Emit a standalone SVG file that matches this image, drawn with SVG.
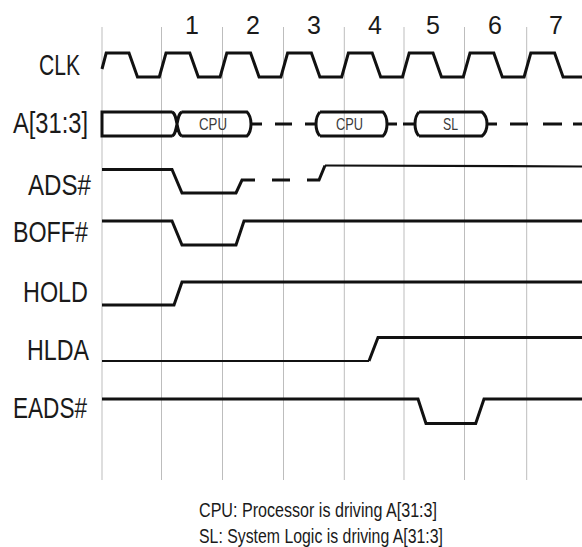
<svg xmlns="http://www.w3.org/2000/svg" width="582" height="547" viewBox="0 0 582 547">
<style>
.grid{stroke:#bdbdbd;stroke-width:1;fill:none}
.w{stroke:#111;stroke-width:3;fill:none;stroke-linejoin:miter}
.thin{stroke-width:2.2}
.lbl{font-family:"Liberation Sans Narrow","Liberation Sans",Arial,sans-serif;font-size:29px;fill:#1a1a1a}
.num{font-family:"Liberation Sans Narrow","Liberation Sans",Arial,sans-serif;font-size:25px;fill:#1a1a1a;text-anchor:middle}
.bus{font-family:"Liberation Sans Narrow","Liberation Sans",Arial,sans-serif;font-size:17px;fill:#3a3a3a}
.note{font-family:"Liberation Sans Narrow","Liberation Sans",Arial,sans-serif;font-size:20px;fill:#1a1a1a}
</style>
<rect width="582" height="547" fill="#fff"/>
<g id="grid">
<path class="grid" d="M102,27V480M161.5,27V480M222.5,27V480M283.5,27V480M344.3,27V480M404,27V480M464.5,27V480M526.7,27V480"/>
</g>
<g id="clock-numbers">
<text class="num" x="192" y="34">1</text>
<text class="num" x="253" y="34">2</text>
<text class="num" x="314" y="34">3</text>
<text class="num" x="375" y="34">4</text>
<text class="num" x="433" y="34">5</text>
<text class="num" x="495" y="34">6</text>
<text class="num" x="556" y="34">7</text>
</g>
<g id="clk">
<text class="lbl" x="39" y="75" textLength="41" lengthAdjust="spacingAndGlyphs">CLK</text>
<path class="w" d="M102,69 L106.2,53 L129,53 L137.5,77 L159.3,77 L166,53 L189.8,53 L198.3,77 L220.1,77 L226.8,53 L250.6,53 L259.1,77 L280.9,77 L287.6,53 L311.4,53 L319.9,77 L341.7,77 L348.4,53 L372.2,53 L380.7,77 L402.5,77 L409.2,53 L433,53 L441.5,77 L463.3,77 L470,53 L493.8,53 L502.3,77 L524.1,77 L530.8,53 L554.6,53 L563.1,77 L582,77"/>
</g>
<g id="addr">
<text class="lbl" x="13" y="133" textLength="75" lengthAdjust="spacingAndGlyphs">A[31:3]</text>
<path class="w" d="M172,112 L102,112 L102,136 L172,136 M172,112 C178,114 176,134 182,136 M172,136 C178,134 176,114 182,112 M182,112 L247,112 Q251,116 251,124 Q251,132 247,136 L182,136 M251,124 H262 M275,124 H292 M305,124 H316 M320,112 Q316,116 316,124 Q316,132 320,136 M320,112 H383 Q387,116 387,124 Q387,132 383,136 H320 M387,124 H397 M403,124 H415 M419,112 Q415,116 415,124 Q415,132 419,136 M419,112 H482 Q487,116 487,124 Q487,132 482,136 H419 M487,124 H497 M510,124 H528 M543,124 H562 M573,124 H582"/>
<text class="bus" x="199" y="130" textLength="28" lengthAdjust="spacingAndGlyphs">CPU</text>
<text class="bus" x="336" y="130" textLength="27" lengthAdjust="spacingAndGlyphs">CPU</text>
<text class="bus" x="443" y="130" textLength="15" lengthAdjust="spacingAndGlyphs">SL</text>
</g>
<g id="ads">
<text class="lbl" x="28" y="195" textLength="63" lengthAdjust="spacingAndGlyphs">ADS#</text>
<path class="w" d="M102,169.5 L172,169.5 L182,193 L236,193 L242,180 L255,180 M272,180 L290,180 M307,180 L319,180 L325,165.5"/>
<path class="w thin" d="M325,165.5 L582,166.5"/>
</g>
<g id="boff">
<text class="lbl" x="13" y="242" textLength="75" lengthAdjust="spacingAndGlyphs">BOFF#</text>
<path class="w" d="M102,221 L172,221 L182,245 L236,245 L244,221 L582,221"/>
</g>
<g id="hold">
<text class="lbl" x="23" y="302" textLength="65" lengthAdjust="spacingAndGlyphs">HOLD</text>
<path class="w" d="M102,305 L174,305 L182,282 L582,282"/>
</g>
<g id="hlda">
<text class="lbl" x="27" y="360" textLength="62" lengthAdjust="spacingAndGlyphs">HLDA</text>
<path class="w thin" d="M102,361 L369,361"/>
<path class="w" d="M369,361 L378,337.5 L582,337.5"/>
</g>
<g id="eads">
<text class="lbl" x="13" y="418" textLength="74" lengthAdjust="spacingAndGlyphs">EADS#</text>
<path class="w" d="M102,399 L418,399 L426,423.5 L475.7,423.5 L484,399 L582,399"/>
</g>
<g id="legend">
<text class="note" x="199" y="517" textLength="238" lengthAdjust="spacingAndGlyphs">CPU: Processor is driving A[31:3]</text>
<text class="note" x="199" y="543" textLength="244" lengthAdjust="spacingAndGlyphs">SL: System Logic is driving A[31:3]</text>
</g>
</svg>
